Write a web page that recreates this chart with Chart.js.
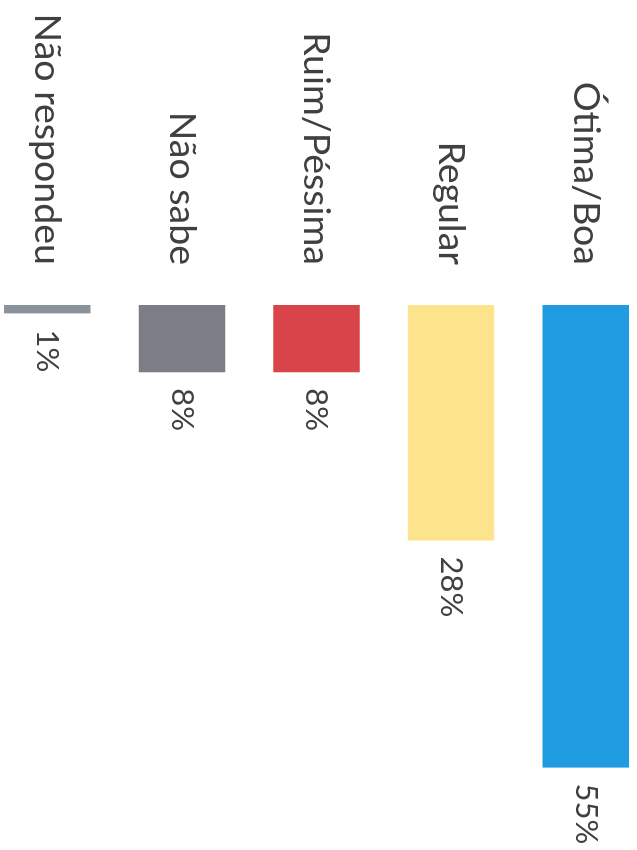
<!DOCTYPE html>
<html>
<head>
<meta charset="utf-8">
<script src="https://cdn.jsdelivr.net/npm/chart.js@4/dist/chart.umd.min.js"></script>
<style>
	html, body { margin: 0; padding: 0; background: #fff; overflow: hidden; width: 637px; height: 850px; }
	#giro {
		position: absolute;
		left: 653px;
		top: 0;
		width: 850px;
		height: 673px;
		transform-origin: 0 0;
		transform: rotate(90deg);
	}
</style>
</head>
<body>
<div id="giro"><canvas id="graficoAvaliacao"></canvas></div>
<script>
var categorias = ['Ótima/Boa', 'Regular', 'Ruim/Péssima', 'Não sabe', 'Não respondeu'];
var percentuais = [55, 28, 8, 8, 1];
var cores = ['#1e9be1', '#fde38b', '#d9444a', '#7b7f85', '#8a939b'];

var rotulosValor = {
	id: 'rotulosValor',
	afterDatasetsDraw: function(chart) {
		var ctx = chart.ctx;
		var meta = chart.getDatasetMeta(0);
		ctx.save();
		ctx.font = '31px Lato, "Open Sans", sans-serif';
		ctx.fillStyle = '#404040';
		ctx.textAlign = 'left';
		ctx.textBaseline = 'middle';
		meta.data.forEach(function(barra, i) {
			ctx.fillText(percentuais[i] + '%', barra.x + 16, barra.y);
		});
		ctx.restore();
	}
};

var ctx = document.getElementById('graficoAvaliacao').getContext('2d');
var grafico = new Chart(ctx, {
	type: 'bar',
	data: {
		labels: categorias,
		datasets: [{
			data: percentuais,
			backgroundColor: cores,
			borderWidth: 0,
			categoryPercentage: 1,
			barPercentage: 0.643
		}]
	},
	options: {
		indexAxis: 'y',
		responsive: true,
		maintainAspectRatio: false,
		animation: false,
		layout: { padding: 0 },
		plugins: {
			legend: { display: false },
			tooltip: { enabled: false }
		},
		scales: {
			x: {
				display: false,
				min: 0,
				max: 64.8
			},
			y: {
				grid: { display: false, drawTicks: false },
				border: { display: false },
				ticks: {
					padding: 40,
					color: '#404040',
					font: { family: 'Lato, "Open Sans", sans-serif', size: 37.5 }
				},
				afterFit: function(escala) {
					escala.width = 305;
					escala.paddingTop = 0;
					escala.paddingBottom = 0;
				}
			}
		}
	},
	plugins: [rotulosValor]
});
</script>
</body>
</html>
